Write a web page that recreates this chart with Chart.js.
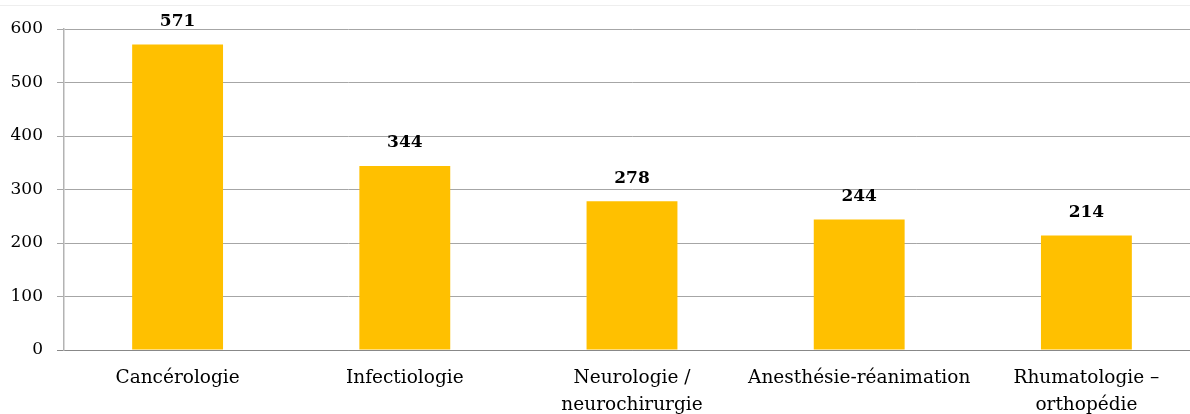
<!DOCTYPE html>
<html><head><meta charset="utf-8">
<script src="https://cdn.jsdelivr.net/npm/chart.js@4/dist/chart.umd.min.js"></script>
<style>html,body{margin:0;padding:0;background:#fff;overflow:hidden}#wrap{width:1190px;height:414px;position:relative;overflow:hidden}</style>
</head><body><div id="wrap"><canvas id="c" width="1200" height="414"></canvas></div>
<script>
const categories = ["Cancérologie", "Infectiologie", ["Neurologie /", "neurochirurgie"], "Anesthésie-réanimation", ["Rhumatologie –", "orthopédie"]];
const values = [571, 344, 278, 244, 214];
const yTicks = [0, 100, 200, 300, 400, 500, 600];

const FONT = "'DejaVu Serif', 'Liberation Serif', serif";

const labelPlugin = {
  id: 'valueLabels',
  beforeDraw(chart) {
    const ctx = chart.ctx;
    ctx.save();
    ctx.strokeStyle = '#eeeeee';
    ctx.lineWidth = 1;
    ctx.beginPath(); ctx.moveTo(0, 5.5); ctx.lineTo(chart.width, 5.5); ctx.stroke();
    ctx.restore();
  },
  afterDatasetsDraw(chart) {
    const ctx = chart.ctx;
    const meta = chart.getDatasetMeta(0);
    ctx.save();
    ctx.font = "bold 17px " + FONT;
    ctx.fillStyle = '#000';
    ctx.textAlign = 'center';
    ctx.textBaseline = 'middle';
    meta.data.forEach((bar, i) => {
      ctx.fillText(String(chart.data.datasets[0].data[i]), bar.x, bar.y - 23);
    });
    ctx.restore();
  }
};

new Chart(document.getElementById('c'), {
  type: 'bar',
  data: {
    labels: categories,
    datasets: [{ data: values, backgroundColor: '#FFC000', categoryPercentage: 1, barPercentage: 0.4 }]
  },
  options: {
    responsive: false,
    animation: false,
    layout: { padding: { top: 29, right: 0, left: 0, bottom: 0 } },
    plugins: { legend: { display: false }, tooltip: { enabled: false } },
    scales: {
      x: {
        grid: { display: false, drawTicks: false },
        border: { color: '#888888', width: 1 },
        ticks: { color: '#000', font: { family: FONT, size: 18.5, lineHeight: 1.45 }, padding: 15, maxRotation: 0, autoSkip: false },
        afterFit(s) { s.height = 64; }
      },
      y: {
        min: 0, max: 600,
        afterBuildTicks(s) { s.ticks = yTicks.map(v => ({ value: v })); },
        grid: {
          color: ctx => ctx.tick && ctx.tick.value === 0 ? '#888888' : '#a6a6a6',
          lineWidth: 1, tickLength: 7, drawTicks: true
        },
        border: { color: '#b3b3b3', width: 1.5 },
        ticks: { color: '#000', font: { family: FONT, size: 17 }, padding: 14 },
        afterFit(s) { s.width = 64; }
      }
    }
  },
  plugins: [labelPlugin]
});
</script></body></html>
